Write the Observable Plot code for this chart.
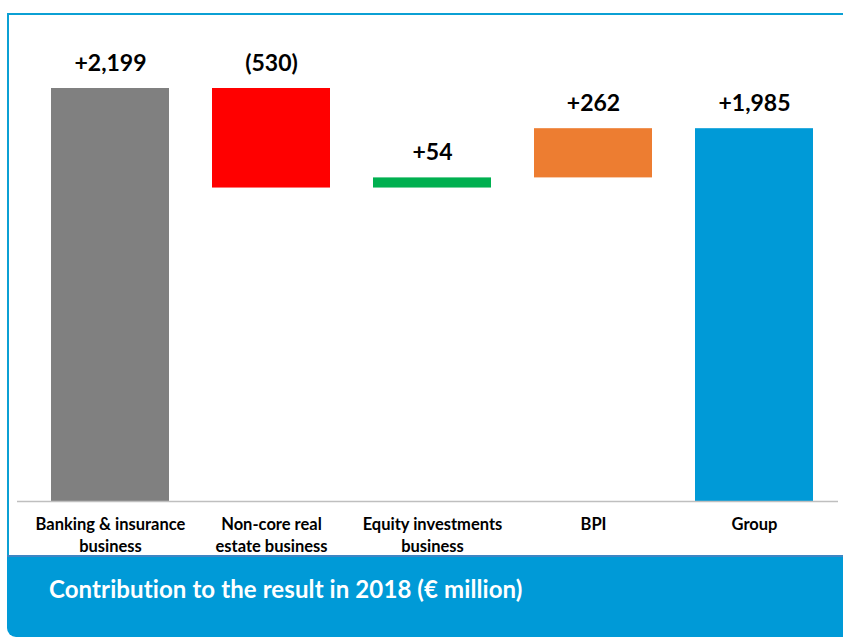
<!DOCTYPE html>
<html><head><meta charset="utf-8">
<script src="https://cdn.jsdelivr.net/npm/d3@7"></script>
<script src="https://cdn.jsdelivr.net/npm/@observablehq/plot@0.6"></script>
<style>
html,body{margin:0;padding:0;background:#fff;}
#wrap{position:relative;width:843px;height:637px;overflow:hidden;font-family:Lato,"Open Sans",sans-serif;}
#panel{position:absolute;left:7px;top:13px;width:850px;height:560px;border-top:2px solid #0BA0D4;border-left:2px solid #0BA0D4;box-sizing:border-box;}
#chart{position:absolute;left:0;top:0;}
#footer{position:absolute;left:7px;top:555px;width:850px;height:82px;background:#009AD7;border-top:2px solid #3E86C4;border-bottom-left-radius:9px;box-sizing:border-box;}
#footer span{position:absolute;left:42px;top:17px;color:#fff;font-weight:700;font-size:24px;letter-spacing:0.1px;}
</style></head>
<body><div id="wrap"><div id="panel"></div><div id="footer"><span>Contribution to the result in 2018 (€ million)</span></div><div id="chart"></div></div>
<script>
const categories = ["Banking & insurance\nbusiness", "Non-core real\nestate business", "Equity investments\nbusiness", "BPI", "Group"];
const values = [2199, -530, 54, 262, 1985];
const valueLabels = ["+2,199", "(530)", "+54", "+262", "+1,985"];
const isTotal = [false, false, false, false, true];
const colors = ["#808080", "#FF0000", "#00B050", "#ED7D31", "#009AD7"];

let run = 0;
const rows = categories.map((c, i) => {
  let y1, y2;
  if (isTotal[i]) { y1 = 0; y2 = values[i]; }
  else { y1 = run; y2 = run + values[i]; run = y2; }
  return {cat: c, y1, y2, top: Math.max(y1, y2), label: valueLabels[i], color: colors[i]};
});

const chart = Plot.plot({
  width: 843,
  height: 556,
  marginLeft: 17,
  marginRight: 5,
  marginTop: 0,
  marginBottom: 55,
  style: {fontFamily: "Lato, 'Open Sans', sans-serif", background: "transparent", overflow: "visible"},
  x: {domain: categories, range: [49, 815], paddingInner: 0.264, paddingOuter: 0, axis: null},
  y: {domain: [0, 2199], range: [501, 88], axis: null},
  marks: [
    Plot.barY(rows, {x: "cat", y1: "y1", y2: "y2", fill: "color"}),
    Plot.ruleY([0], {stroke: "#BFBFBF", strokeWidth: 1.5}),
    Plot.text(rows, {x: "cat", y: "top", text: "label", dy: -25, fontSize: 23, fontWeight: 700, fill: "#000"}),
    Plot.text(rows, {x: "cat", y: () => 0, text: "cat", dy: 13, lineAnchor: "top", lineHeight: 1.33, fontSize: 16.5, fontWeight: 700, fill: "#000"})
  ]
});
document.getElementById("chart").appendChild(chart);
</script>
</body></html>
